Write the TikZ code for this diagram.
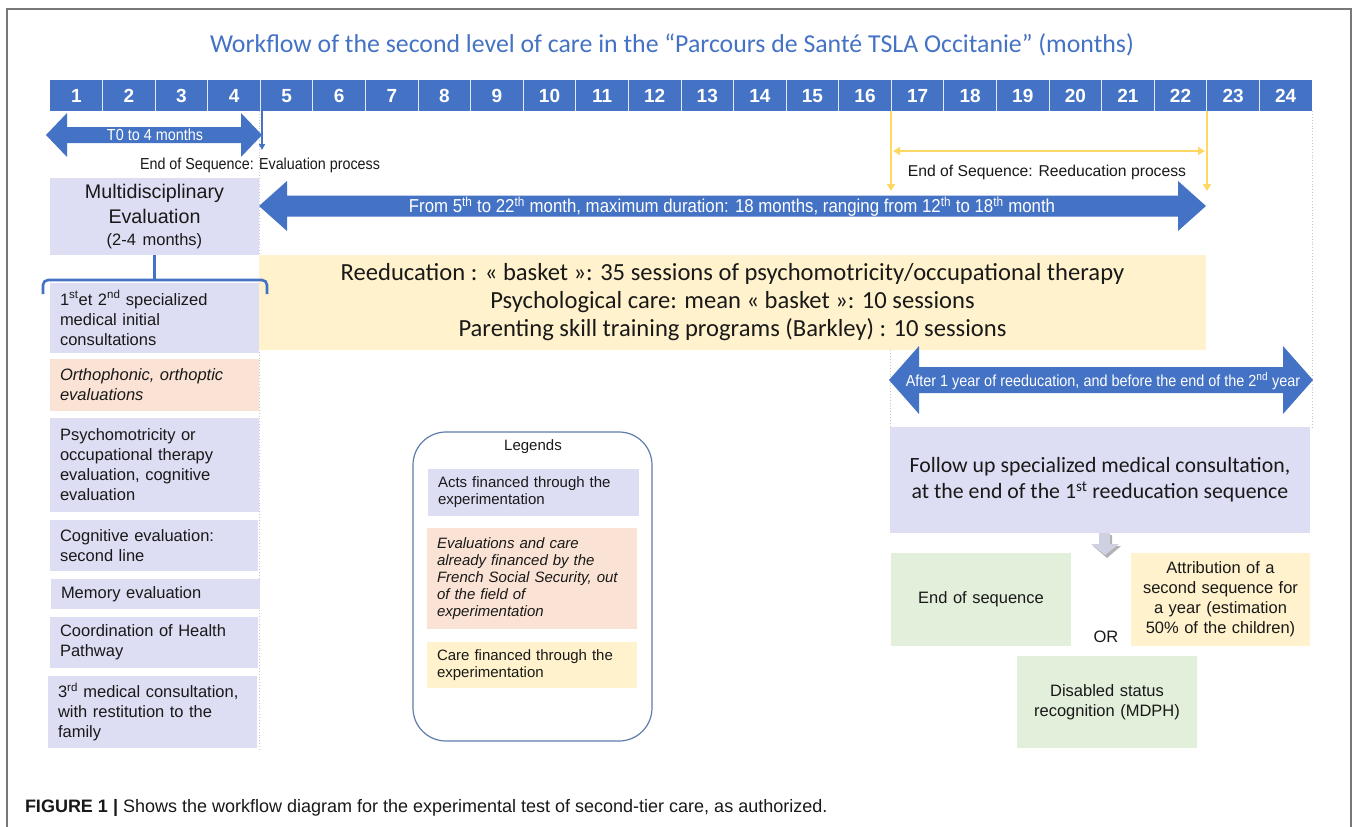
\documentclass[tikz,border=0pt]{standalone}
\usepackage{fontspec}
\setmainfont{Liberation Sans}
\newfontfamily\calib{Carlito}
\newfontfamily\narr[FakeStretch=0.9]{Liberation Sans}
\usetikzlibrary{arrows.meta}
\definecolor{bl}{RGB}{68,114,196}
\definecolor{lav}{RGB}{221,222,243}
\definecolor{peach}{RGB}{250,227,212}
\definecolor{yel}{RGB}{255,242,204}
\definecolor{grn}{RGB}{226,239,218}
\definecolor{gold}{RGB}{255,215,100}
\definecolor{legb}{RGB}{95,125,170}
\definecolor{frm}{RGB}{120,120,120}
\definecolor{dots}{RGB}{200,200,205}
\definecolor{txt}{RGB}{25,25,25}
\newcommand\blkarrow[6]{%
\fill[bl] (#1,#3) -- ({#1+#6},{#3-#5}) -- ({#1+#6},{#3-#4}) -- ({#2-#6},{#3-#4}) -- ({#2-#6},{#3-#5}) -- (#2,#3) -- ({#2-#6},{#3+#5}) -- ({#2-#6},{#3+#4}) -- ({#1+#6},{#3+#4}) -- ({#1+#6},{#3+#5}) -- cycle;}
\begin{document}
\begin{tikzpicture}[x=1pt,y=-1pt,
  every node/.style={inner sep=0pt, outer sep=0pt, text=txt},
  cell/.style={text=white, font=\bfseries\fontsize{19}{19}\selectfont},
  rect/.style={anchor=north west, inner xsep=10pt, align=left, font=\fontsize{16.5}{20}\selectfont},
  ctr/.style={anchor=north west, align=center, font=\fontsize{16.5}{20}\selectfont},
  leg/.style={anchor=north west, inner xsep=10pt, align=left, font=\fontsize{15}{17}\selectfont},
  flav/.style={fill=lav}, fpeach/.style={fill=peach}, fyel/.style={fill=yel}, fgrn/.style={fill=grn},
  wlabel/.style={text=white, font=\narr\fontsize{16}{16}\selectfont},
  goldarrow/.style={draw=gold, line width=2.2, -{Triangle[width=8pt,length=7pt]}},
  dotline/.style={draw=dots, dotted, line width=0.9}
]
\useasboundingbox (0,0) rectangle (1358,827);
\fill[white] (0,0) rectangle (1358,827);
% frame
\draw[frm, line width=1.3] (7,827) -- (7,9) -- (1351,9) -- (1351,827);
% title
\node[text=bl, font=\calib\fontsize{25.8}{26}\selectfont] (title) at (672,45) {Workflow of the second level of care in the “Parcours de Santé TSLA Occitanie” (months)};
% dotted guides
\draw[dotline] (259,111) -- (259,750);
\draw[dotline] (1312,111) -- (1312,428);
\draw[dotline] (890,330) -- (890,428);
% month bar
\fill[bl] (50,80) rectangle (1312,111);
\foreach \i in {1,...,23} { \draw[white!85!bl, line width=1] ({50+\i*52.583},80) -- ({50+\i*52.583},111); }
\foreach \i in {1,...,24} { \node[cell] (m\i) at ({50+(\i-0.5)*52.583},96) {\i}; }
% T0 arrow
\blkarrow{46}{262}{135}{8}{22}{21}
\node[wlabel] (t0) at (155,135) {T0 to 4 months};
\coordinate (evs) at (262,111); \coordinate (eve) at (262,150);
\draw[bl, line width=1.6, -{Triangle[width=6pt,length=6pt]}] (evs) -- (eve);
\node[font=\narr\fontsize{15.9}{16}\selectfont, anchor=west] (evtxt) at (140,165) {End of Sequence: Evaluation process};
% gold arrows
\coordinate (g1s) at (891,111); \coordinate (g1e) at (891,191);
\coordinate (g2s) at (1207,111); \coordinate (g2e) at (1207,191);
\coordinate (g3s) at (893,151); \coordinate (g3e) at (1205,151);
\draw[goldarrow] (g1s) -- (g1e);
\draw[goldarrow] (g2s) -- (g2e);
\draw[goldarrow, {Triangle[width=8pt,length=7pt]}-{Triangle[width=8pt,length=7pt]}] (g3s) -- (g3e);
\node[font=\fontsize{15.7}{16}\selectfont] (retxt) at (1047,172) {End of Sequence: Reeducation process};
% big arrow
\blkarrow{259}{1206}{206}{10.5}{25}{28}
\node[wlabel, font=\narr\fontsize{18.7}{19}\selectfont] (bigt) at (732,207) {From 5\textsuperscript{th} to 22\textsuperscript{th} month, maximum duration: 18 months, ranging from 12\textsuperscript{th} to 18\textsuperscript{th} month};
% multidisciplinary
\node[ctr, flav, minimum width=209, minimum height=77, text width=209, font=\fontsize{19.7}{25}\selectfont] (mde) at (50,178) {Multidisciplinary\\Evaluation\\[-3pt]{\fontsize{16.5}{18}\selectfont (2-4 months)}};
% left column
\node[rect, flav, minimum width=209, minimum height=70, text width=189] (b1) at (50,283) {1\textsuperscript{st}et 2\textsuperscript{nd} specialized\\medical initial\\consultations};
\node[rect, fpeach, minimum width=209, minimum height=52, text width=189, font=\itshape\fontsize{16.5}{20}\selectfont] (b2) at (50,359) {Orthophonic, orthoptic\\evaluations};
\node[rect, flav, minimum width=209, minimum height=94, text width=189] (b3) at (50,418) {Psychomotricity or\\occupational therapy\\evaluation, cognitive\\evaluation};
\node[rect, flav, minimum width=208, minimum height=51, text width=188] (b4) at (50,520) {Cognitive evaluation:\\second line};
\node[rect, flav, minimum width=209, minimum height=30, text width=189] (b5) at (51,579) {Memory evaluation};
\node[rect, flav, minimum width=208, minimum height=51, text width=188] (b6) at (50,617) {Coordination of Health\\Pathway};
\node[rect, flav, minimum width=209, minimum height=72, text width=189] (b7) at (48,676) {3\textsuperscript{rd} medical consultation,\\with restitution to the\\family};
% reeducation box
\node[anchor=north west, fyel, minimum width=947, minimum height=95, align=center, font=\calib\fontsize{24.6}{28}\selectfont] (reed) at (259,255) {Reeducation : « basket »: 35 sessions of psychomotricity/occupational therapy\\Psychological care: mean « basket »: 10 sessions\\Parenting skill training programs (Barkley) : 10 sessions};
% bracket from multidisciplinary evaluation
\coordinate (brk) at (154.5,280);
\draw[bl, line width=2.6] (mde.south) -- (brk);
\draw[bl, line width=2.6, rounded corners=5] (43,294) -- (43,280) -- (267,280) -- (267,294);
% legend
\draw[legb, line width=1.2, rounded corners=33] (413,432) rectangle (652,741);
\node[font=\fontsize{15}{15}\selectfont] (legt) at (533,447) {Legends};
\node[leg, flav, minimum width=211, minimum height=47, text width=191] (l1) at (428,469) {Acts financed through the\\experimentation};
\node[leg, fpeach, minimum width=210, minimum height=101, text width=190, font=\itshape\fontsize{15}{17}\selectfont] (l2) at (427,528) {Evaluations and care\\already financed by the\\French Social Security, out\\of the field of\\experimentation};
\node[leg, fyel, minimum width=210, minimum height=46, text width=190] (l3) at (427,642) {Care financed through the\\experimentation};
% after 1 year arrow
\blkarrow{889}{1313}{380}{13}{34}{30}
\node[wlabel, font=\narr\fontsize{16}{16}\selectfont] (a3t) at (1103,381) {After 1 year of reeducation, and before the end of the 2\textsuperscript{nd} year};
% follow up
\node[anchor=north west, flav, minimum width=420, minimum height=106, align=center, font=\calib\fontsize{21.8}{26}\selectfont] (fu) at (890,427) {Follow up specialized medical consultation,\\at the end of the 1\textsuperscript{st} reeducation sequence};
% small down arrow
\coordinate (da) at (1105,533);
\fill[gray!60] (1102,535) -- (1112,535) -- (1112,546) -- (1121,546) -- (1107,558) -- (1093,546) -- (1102,546) -- cycle;
\fill[lav!85!gray] (1099,533) -- (1110,533) -- (1110,544) -- (1119,544) -- (1105,555) -- (1091,544) -- (1099,544) -- cycle;
% outcomes
\node[ctr, fgrn, minimum width=180, minimum height=93, text width=180] (es) at (891,553) {End of sequence};
\node[ctr, fyel, minimum width=179, minimum height=93, text width=179] (att) at (1131,553) {Attribution of a\\second sequence for\\a year (estimation\\50\% of the children)};
\node[font=\fontsize{16.5}{17}\selectfont] (or) at (1106,637) {OR};
\node[ctr, fgrn, minimum width=180, minimum height=92, text width=180] (ds) at (1017,656) {Disabled status\\recognition (MDPH)};
% caption
\node[anchor=west, font=\fontsize{18}{18}\selectfont] (cap) at (25,808) {\textbf{FIGURE 1 |} Shows the workflow diagram for the experimental test of second-tier care, as authorized.};
\end{tikzpicture}
\end{document}
